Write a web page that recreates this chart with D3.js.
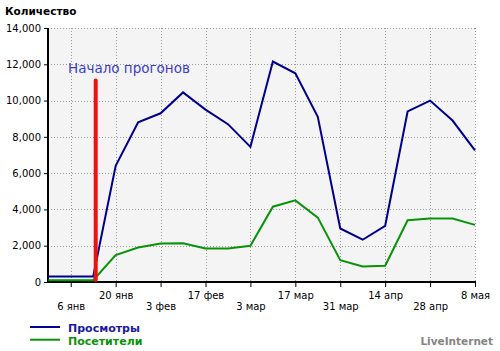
<!DOCTYPE html>
<html>
<head>
<meta charset="utf-8">
<script src="https://cdn.jsdelivr.net/npm/d3@7"></script>
<style>
  html, body { margin: 0; padding: 0; background: #fff; }
  svg { display: block; font-family: "DejaVu Sans", Verdana, sans-serif; }
</style>
</head>
<body>
<svg id="chart" width="500" height="351"></svg>
<script>
// weekly points, labels on every second one
const weekLabels = ['', '6 янв', '', '20 янв', '', '3 фев', '', '17 фев', '', '3 мар',
                    '', '17 мар', '', '31 мар', '', '14 апр', '', '28 апр', '', '8 мая'];
const views    = [300, 300, 300, 6400, 8800, 9300, 10450, 9500, 8700, 7450,
                  12150, 11500, 9100, 2950, 2330, 3100, 9400, 10000, 8900, 7250];
const visitors = [100, 100, 100, 1480, 1900, 2120, 2130, 1850, 1850, 2000,
                  4150, 4500, 3550, 1200, 850, 900, 3400, 3500, 3500, 3150];
const yTicks   = [0, 2000, 4000, 6000, 8000, 10000, 12000, 14000];
const startIdx = 2;       // "Начало прогонов" marker sits just after this point
const startTop = 11100;

const svg = d3.select('#chart');
const m = { l: 48, r: 25, t: 28, b: 69 };
const W = 500, H = 351;

const x = d3.scalePoint().domain(d3.range(views.length)).range([m.l + 0.3, W - m.r]);
const y = d3.scaleLinear().domain([0, 14000]).range([H - m.b, m.t]);

// plot background
svg.append('rect')
  .attr('x', m.l).attr('y', m.t)
  .attr('width', W - m.r - m.l).attr('height', H - m.b - m.t)
  .attr('fill', '#f4f4f4');

// grid
const gridX = d3.range(views.length).filter(i => weekLabels[i]);
svg.append('g').selectAll('line').data(gridX).enter().append('line')
  .attr('x1', d => Math.round(x(d)) + 0.5).attr('x2', d => Math.round(x(d)) + 0.5)
  .attr('y1', m.t).attr('y2', y(0))
  .attr('stroke', '#9a9a9a').attr('stroke-dasharray', '1,2');
svg.append('g').selectAll('line').data(yTicks.slice(1)).enter().append('line')
  .attr('x1', m.l).attr('x2', W - m.r)
  .attr('y1', d => Math.round(y(d)) + 0.5).attr('y2', d => Math.round(y(d)) + 0.5)
  .attr('stroke', '#9a9a9a').attr('stroke-dasharray', '1,2');

// y axis
const yAxis = svg.append('g').attr('transform', `translate(${m.l},0)`)
  .call(d3.axisLeft(y).tickValues(yTicks).tickSize(4).tickPadding(3)
    .tickFormat(d3.format(',')));
yAxis.select('.domain').remove();
yAxis.selectAll('line').attr('stroke', '#000');
yAxis.selectAll('text').attr('font-size', 10).attr('fill', '#000')
  .attr('font-family', '"DejaVu Sans", Verdana, sans-serif');

// x axis, labels in two rows
const xAxis = svg.append('g').attr('transform', `translate(0,${y(0)})`)
  .call(d3.axisBottom(x).tickValues(gridX).tickSize(5)
    .tickFormat(i => weekLabels[i]));
xAxis.select('.domain').remove();
xAxis.selectAll('line').attr('stroke', '#000');
xAxis.selectAll('text')
  .attr('font-size', 10).attr('fill', '#000')
  .attr('font-family', '"DejaVu Sans", Verdana, sans-serif')
  .attr('y', (d, k) => k % 2 === 0 ? 21 : 10);

// axis lines
svg.append('line').attr('x1', m.l).attr('x2', m.l).attr('y1', m.t).attr('y2', y(0) + 1)
  .attr('stroke', '#000').attr('stroke-width', 2);
svg.append('line').attr('x1', m.l - 1).attr('x2', W - m.r + 1).attr('y1', y(0)).attr('y2', y(0))
  .attr('stroke', '#000').attr('stroke-width', 2);

// series
const line = d3.line().x((d, i) => x(i)).y(d => y(d));
svg.append('path').datum(visitors).attr('d', line)
  .attr('fill', 'none').attr('stroke', '#0a930a').attr('stroke-width', 2);
svg.append('path').datum(views).attr('d', line)
  .attr('fill', 'none').attr('stroke', '#00008f').attr('stroke-width', 2);

// start marker
const sx = x(startIdx) + 2.5;
svg.append('line').attr('x1', sx).attr('x2', sx).attr('y1', y(0) - 2).attr('y2', y(startTop))
  .attr('stroke', '#ee1111').attr('stroke-width', 4).attr('stroke-linecap', 'round');
svg.append('text').attr('x', 68).attr('y', 73)
  .attr('font-size', 13.5).attr('fill', '#3c3ccc')
  .text('Начало прогонов');

// title
svg.append('text').attr('x', 5).attr('y', 15)
  .attr('font-size', 10.5).attr('font-weight', 'bold').attr('fill', '#000')
  .text('Количество');

// legend
const legend = [['Просмотры', '#00008f', '#1a1aa0'], ['Посетители', '#0a930a', '#0a930a']];
const lg = svg.append('g').selectAll('g').data(legend).enter().append('g')
  .attr('transform', (d, i) => `translate(30,${327 + i * 12.7})`);
lg.append('line').attr('x1', 0).attr('x2', 30).attr('stroke', d => d[1]).attr('stroke-width', 2);
lg.append('text').attr('x', 38).attr('y', 5)
  .attr('font-size', 11).attr('font-weight', 'bold').attr('fill', d => d[2])
  .text(d => d[0]);

svg.append('text').attr('x', 493).attr('y', 345).attr('text-anchor', 'end')
  .attr('font-size', 10.5).attr('font-weight', 'bold').attr('fill', '#858585')
  .text('LiveInternet');
</script>
</body>
</html>
